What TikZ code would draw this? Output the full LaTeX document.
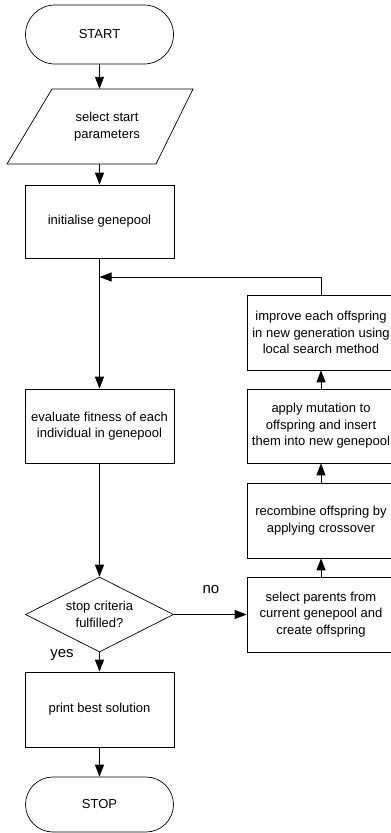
\documentclass[tikz,border=0pt]{standalone}
\usepackage{fontspec}
\setmainfont{Liberation Sans}
\usetikzlibrary{arrows.meta,shapes.geometric,shapes.misc,calc}
\begin{document}
\begin{tikzpicture}[x=1pt,y=-1pt,
  every node/.style={font=\fontsize{13}{16.5}\selectfont, align=center, inner sep=0pt},
  box/.style={draw, line width=0.7pt, minimum width=149pt, minimum height=74pt},
  rbox/.style={draw, line width=0.7pt, minimum width=148pt, minimum height=75pt},
  term/.style={draw, line width=0.7pt, rounded rectangle, minimum width=148pt},
  decision/.style={draw, line width=0.7pt, diamond, aspect=2, minimum width=148pt, minimum height=75pt},
  lbl/.style={font=\fontsize{15}{18}\selectfont, anchor=base},
  arr/.style={line width=0.9pt, -{Triangle[length=12pt,width=9pt]}},
  conn/.style={line width=0.9pt}
]
\useasboundingbox (0,0) rectangle (391,833);

% left column
\node[term, minimum height=59pt] (start) at (99.5,34.5) {START};
\node[minimum width=100pt, minimum height=75pt] (par) at (107,126.5) {select start\\parameters};
\draw[line width=0.7pt] ($(par)+(-55,-37.5)$) -- ($(par)+(86,-37.5)$) -- ($(par)+(49,37.5)$) -- ($(par)+(-100,37.5)$) -- cycle;
\node[box, minimum height=73pt] (init) at (99.5,221.5) {initialise genepool};
\coordinate (merge) at (99.5,277);
\node[box] (eval) at (99.5,426) {evaluate fitness of each\\individual in genepool};
\node[decision] (dec) at (99.5,614.5) {stop criteria\\fulfilled?};
\node[box, minimum height=75pt] (print) at (99.5,709.5) {print best solution};
\node[term, minimum height=55pt] (stop) at (99.5,804.5) {STOP};

% right column
\node[rbox] (improve) at (321,332.5) {improve each offspring\\in new generation using\\local search method};
\node[rbox, minimum height=74pt] (mut) at (321,426) {apply mutation to\\offspring and insert\\them into new genepool};
\node[rbox] (recomb) at (321,520.5) {recombine offspring by\\applying crossover};
\node[rbox] (select) at (321,614.5) {select parents from\\current genepool and\\create offspring};

% labels
\node[lbl] (no) at (211,593) {no};
\node[lbl] (yes) at (62,657) {yes};

% connectors
\draw[arr] (start.south) -- (start.south |- par.north);
\draw[arr] (init.north |- par.south) -- (init.north);
\draw[arr] (init.south) -- (eval.north);
\draw[arr] (eval.south) -- (dec.north);
\draw[arr] (dec.east) -- (select.west);
\draw[arr] (dec.south) -- (print.north);
\draw[arr] (print.south) -- (stop.north);
\draw[arr] (select.north) -- (recomb.south);
\draw[arr] (recomb.north) -- (mut.south);
\draw[arr] (mut.north) -- (improve.south);
\draw[arr] (improve.north) |- (merge);
\end{tikzpicture}
\end{document}
